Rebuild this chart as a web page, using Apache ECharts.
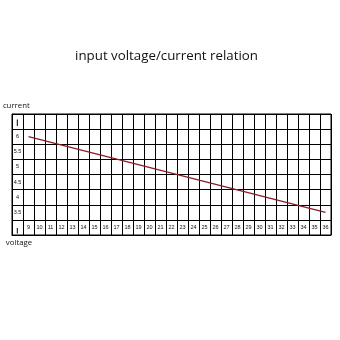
<!DOCTYPE html>
<html>
<head>
<meta charset="utf-8">
<script src="https://cdn.jsdelivr.net/npm/echarts@6/dist/echarts.min.js"></script>
<style>
html,body{margin:0;padding:0;background:#fff;}
#chart{width:340px;height:340px;}
</style>
</head>
<body>
<div id="chart"></div>
<script>
// Table columns: first column holds the current labels, the rest are voltages
const voltageLabels = ['9','10','11','12','13','14','15','16','17','18','19','20','21','22','23','24','25','26','27','28','29','30','31','32','33','34','35','36'];
// Table rows (bottom to top): voltage-label row, then current levels, then blank top row
const currentLabels = ['3.5','4','4.5','5','5.5','6'];
// Relation line
const lineVoltage = [9, 36];
const lineCurrent = [6, 3.5];

const xCats = [''].concat(voltageLabels);
const yCats = [''].concat(currentLabels).concat(['']);
const lineData = lineVoltage.map((v, i) => [v, lineCurrent[i]]);

const chart = echarts.init(document.getElementById('chart'));
const labelFont = 'Liberation Sans';
chart.setOption({
  animation: false,
  backgroundColor: '#fff',
  title: {
    text: 'input voltage/current relation',
    left: 161.5,
    textAlign: 'center',
    top: 45,
    textStyle: {fontFamily: 'Open Sans', fontSize: 13.3, fontWeight: 'normal', color: '#111'}
  },
  grid: {left: 12, right: 9, top: 114, bottom: 105, show: true, borderColor: '#000', borderWidth: 1, containLabel: false},
  xAxis: [
    {
      type: 'category', data: xCats, boundaryGap: true,
      axisLine: {show: true, lineStyle: {color: '#000', width: 1}},
      axisTick: {show: false},
      splitLine: {show: true, lineStyle: {color: '#000', width: 1}},
      axisLabel: {inside: true, margin: 7.5, verticalAlign: 'middle', interval: 0, fontSize: 5.5, fontFamily: labelFont, color: '#111'}
    },
    {type: 'value', min: 7.5, max: 36.5, show: false}
  ],
  yAxis: [
    {
      type: 'category', data: yCats, boundaryGap: true,
      axisLine: {show: true, lineStyle: {color: '#000', width: 1}},
      axisTick: {show: false},
      splitLine: {show: true, lineStyle: {color: '#000', width: 1}},
      axisLabel: {inside: true, margin: 5.5, align: 'center', interval: 0, fontSize: 5.5, fontFamily: labelFont, color: '#111'}
    },
    {type: 'value', min: 2.75, max: 6.75, show: false}
  ],
  graphic: [
    {type: 'text', style: {text: 'current', x: 16.3, y: 105.5, textAlign: 'center', textVerticalAlign: 'middle', fontFamily: 'Open Sans', fontSize: 7.8, fill: '#111'}},
    {type: 'text', style: {text: 'voltage', x: 19, y: 242.5, textAlign: 'center', textVerticalAlign: 'middle', fontFamily: 'Open Sans', fontSize: 7.8, fill: '#111'}},
    {type: 'line', shape: {x1: 17.3, y1: 119.5, x2: 17.3, y2: 126}, style: {stroke: '#000', lineWidth: 1}},
    {type: 'line', shape: {x1: 17.3, y1: 228, x2: 17.3, y2: 233.5}, style: {stroke: '#000', lineWidth: 1}}
  ],
  series: [{
    type: 'line', xAxisIndex: 1, yAxisIndex: 1, data: lineData,
    showSymbol: false, symbol: 'none',
    lineStyle: {color: '#8b1c24', width: 1.2}
  }]
});
</script>
</body>
</html>
